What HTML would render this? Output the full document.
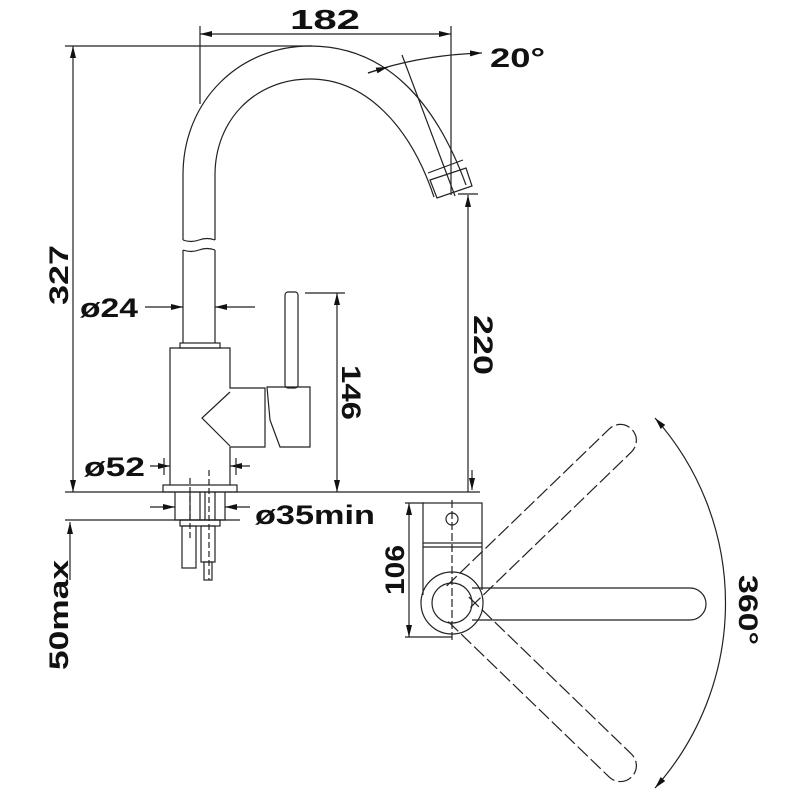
<!DOCTYPE html>
<html><head><style>body{margin:0;background:#fff}svg{display:block}text{font-family:"Liberation Sans",sans-serif;font-weight:bold;fill:#111}</style></head><body>
<svg width="800" height="800" viewBox="0 0 800 800" xmlns="http://www.w3.org/2000/svg">
<defs>
<marker id="a" viewBox="0 0 12 6" refX="12" refY="3" markerWidth="12" markerHeight="6" orient="auto-start-reverse" markerUnits="userSpaceOnUse"><path d="M0,0L12,3L0,6z" fill="#111"/></marker>
</defs>
<g stroke="#222" stroke-width="1.2" fill="none">
<line x1="200" y1="34" x2="451" y2="34" marker-start="url(#a)" marker-end="url(#a)"/>
<line x1="200" y1="26" x2="200" y2="104"/>
<line x1="451" y1="26" x2="451" y2="195"/>
<line x1="65" y1="46" x2="312" y2="46"/>
<line x1="73" y1="46" x2="73" y2="492" marker-start="url(#a)" marker-end="url(#a)"/>
<path d="M183,240 L183,175 C183,100 240,46 310,46 C385,46 435,100 466,185"/>
<path d="M215,240 L215,175 C215,120 255,79 310,79 C365,79 410,125 434,197"/>
<path d="M428,173 L463,160 M430,180 L466,168 L472,186 L437,198 Z"/>
<line x1="402" y1="55" x2="455" y2="196"/>
<path d="M183,240 q8,3 16,0 q8,-3 16,0 M183,250 q8,3 16,0 q8,-3 16,0"/>
<path d="M368,73 Q420,55 482,53" marker-end="url(#a)"/>
<line x1="368" y1="73" x2="388" y2="67" marker-end="url(#a)"/>
<path d="M183,250 L183,343 M215,250 L215,343"/>
<rect x="180" y="343" width="40" height="5"/>
<path d="M170,485 L170,348 L230,348 L230,388 L265,388 L265,447 L230,447 L230,485"/>
<path d="M230,392 L202,418 L230,446"/>
<path d="M267,387 L310,387 L310,447 L280,447 L270,420 Z"/>
<rect x="285" y="292" width="13" height="96" rx="3"/>
<rect x="163" y="485" width="74" height="7"/>
<path d="M175,492 L175,520 L225,520 L225,492 M190,492 L190,520 M200,492 L200,520 M205,492 L205,520 M215,492 L215,520"/>
<rect x="180" y="520" width="40" height="6"/>
<rect x="182" y="526" width="14" height="42"/>
<rect x="201" y="526" width="14" height="36"/>
<rect x="204" y="562" width="8" height="18"/>
<line x1="190" y1="478" x2="190" y2="540" stroke-dasharray="6 3"/>
<line x1="209" y1="470" x2="209" y2="580" stroke-dasharray="6 3"/>
<line x1="145" y1="307" x2="183" y2="307" marker-end="url(#a)"/>
<line x1="255" y1="307" x2="215" y2="307" marker-end="url(#a)"/>
<line x1="305" y1="293" x2="345" y2="293"/>
<line x1="337" y1="293" x2="337" y2="492" marker-start="url(#a)" marker-end="url(#a)"/>
<line x1="150" y1="466" x2="170" y2="466" marker-end="url(#a)"/>
<line x1="250" y1="466" x2="230" y2="466" marker-end="url(#a)"/>
<line x1="164" y1="458" x2="164" y2="475"/><line x1="236" y1="458" x2="236" y2="475"/>
<line x1="65" y1="492" x2="480" y2="492"/>
<line x1="65" y1="520" x2="240" y2="520"/>
<line x1="150" y1="507" x2="175" y2="507" marker-end="url(#a)"/>
<line x1="250" y1="507" x2="225" y2="507" marker-end="url(#a)"/>
<line x1="468" y1="492" x2="468" y2="195" marker-end="url(#a)"/>
<line x1="458" y1="194" x2="478" y2="194"/>
<line x1="70" y1="580" x2="70" y2="522" marker-end="url(#a)"/>
<line x1="472" y1="470" x2="472" y2="490" marker-end="url(#a)"/>
<line x1="405" y1="503" x2="424" y2="503"/>
<line x1="405" y1="637" x2="452" y2="637"/>
<line x1="409" y1="503" x2="409" y2="637" marker-start="url(#a)" marker-end="url(#a)"/>
<rect x="423" y="503" width="59" height="40"/>
<circle cx="452" cy="519" r="6"/>
<path d="M423,543 L423,595 M482,543 L482,590 M423,547 L482,547"/>
<circle cx="452" cy="603" r="31"/>
<circle cx="452" cy="603" r="20"/>
<line x1="452" y1="500" x2="452" y2="640" stroke-dasharray="8 3"/>
<path d="M472,588 L690,588 A16,16 0 0 1 690,620 L472,620"/>
<g transform="rotate(-44 452 603)" stroke-dasharray="14 4"><path d="M460,587 L686,587 A16,16 0 0 1 686,619 L460,619"/></g>
<g transform="rotate(44 452 603)" stroke-dasharray="14 4"><path d="M460,587 L686,587 A16,16 0 0 1 686,619 L460,619"/></g>
<path d="M655,418 A278,278 0 0 1 655,788" marker-start="url(#a)" marker-end="url(#a)"/>
</g>
<text x="290" y="29" font-size="28" textLength="70" lengthAdjust="spacingAndGlyphs">182</text>
<text x="490" y="67" font-size="27" textLength="55" lengthAdjust="spacingAndGlyphs">20°</text>
<text x="80" y="317" font-size="27" textLength="58" lengthAdjust="spacingAndGlyphs">ø24</text>
<text x="84" y="476" font-size="27" textLength="61" lengthAdjust="spacingAndGlyphs">ø52</text>
<text x="255" y="524" font-size="27" textLength="120" lengthAdjust="spacingAndGlyphs">ø35min</text>
<text transform="translate(68,305) rotate(-90)" font-size="27" textLength="60" lengthAdjust="spacingAndGlyphs">327</text>
<text transform="translate(68,670) rotate(-90)" font-size="27" textLength="110" lengthAdjust="spacingAndGlyphs">50max</text>
<text transform="translate(342,365) rotate(90)" font-size="27" textLength="55" lengthAdjust="spacingAndGlyphs">146</text>
<text transform="translate(474,315) rotate(90)" font-size="27" textLength="60" lengthAdjust="spacingAndGlyphs">220</text>
<text transform="translate(404,595) rotate(-90)" font-size="27" textLength="50" lengthAdjust="spacingAndGlyphs">106</text>
<text transform="translate(739,575) rotate(90)" font-size="27" textLength="70" lengthAdjust="spacingAndGlyphs">360°</text>
</svg>
</body></html>
